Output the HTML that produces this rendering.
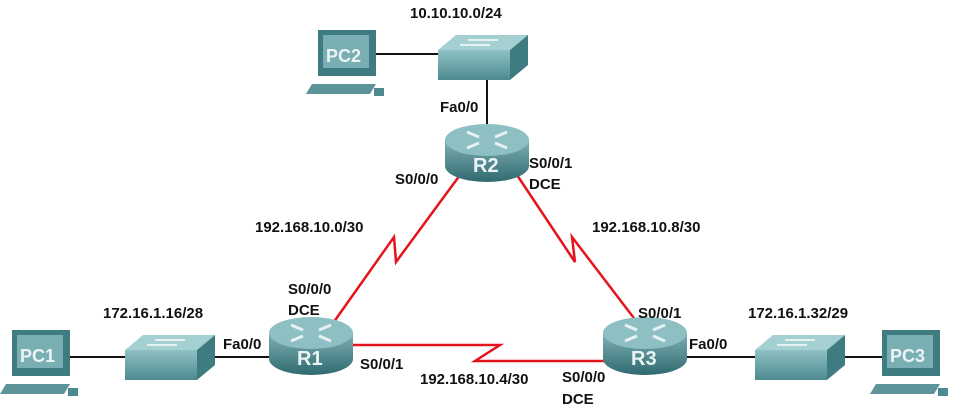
<!DOCTYPE html>
<html><head><style>
body{margin:0;background:#fff}
svg text{font-family:"Liberation Sans",Arial,sans-serif;font-weight:bold;font-size:15px;fill:#111}
</style></head><body>
<svg width="967" height="411" viewBox="0 0 967 411" xmlns="http://www.w3.org/2000/svg">
<defs>
<linearGradient id="rg" x1="0" y1="0" x2="0" y2="1"><stop offset="0" stop-color="#7fb0b4"/><stop offset="1" stop-color="#2f6a70"/></linearGradient>
<linearGradient id="sg" x1="0" y1="0" x2="0" y2="1"><stop offset="0" stop-color="#8fc1c4"/><stop offset="1" stop-color="#4d8a8f"/></linearGradient>
<g id="router">
<path d="M-42,-12 v26 a42,16 0 0 0 84,0 v-26z" fill="url(#rg)"/>
<ellipse cx="0" cy="-12" rx="42" ry="16" fill="#8ec0c3"/>
<path d="M-20,-20 l12,5 M20,-20 l-12,5 M-20,-4 l12,-5 M20,-4 l-12,-5" stroke="#e6f2f2" stroke-width="3"/>
</g>
<g id="switch">
<path d="M0,15 L18,0 H90 L72,15z" fill="#a5d0d2"/>
<path d="M72,15 L90,0 V30 L72,45z" fill="#3f7c81"/>
<rect x="0" y="15" width="72" height="30" fill="url(#sg)"/>
<path d="M30,5 h30 M22,10 h30" stroke="#e6f2f2" stroke-width="2"/>
</g>
<g id="pc">
<rect x="0" y="0" width="58" height="46" fill="#3f7c81"/>
<rect x="5" y="5" width="46" height="33" fill="#79aeb2"/>
<path d="M-6,54 h64 l-6,10 h-64z" fill="#5d9499"/>
<rect x="56" y="58" width="10" height="8" fill="#4d8a8f"/>
</g>
</defs>
<g stroke="#111" stroke-width="2">
<line x1="375" y1="54" x2="445" y2="54"/>
<line x1="487" y1="80" x2="487" y2="125"/>
<line x1="70" y1="357" x2="130" y2="357"/>
<line x1="212" y1="357" x2="275" y2="357"/>
<line x1="683" y1="357" x2="760" y2="357"/>
<line x1="840" y1="357" x2="885" y2="357"/>
</g>
<g stroke="#e5141c" stroke-width="2.5" fill="none" stroke-linejoin="miter">
<polyline points="460,175 396,262 394,237 331,326"/>
<polyline points="517,175 575,262 572,237 640,326"/>
<polyline points="350,345 500,345 475,361 612,361"/>
</g>
<use href="#switch" x="438" y="35"/>
<use href="#switch" x="125" y="335"/>
<use href="#switch" x="755" y="335"/>
<use href="#pc" x="318" y="30"/>
<use href="#pc" x="12" y="330"/>
<use href="#pc" x="882" y="330"/>
<use href="#router" x="487" y="152"/>
<use href="#router" x="311" y="345"/>
<use href="#router" x="645" y="345"/>
<g>
<text x="326" y="62" style="fill:#eaf4f4;font-size:18px">PC2</text>
<text x="20" y="362" style="fill:#eaf4f4;font-size:18px">PC1</text>
<text x="890" y="362" style="fill:#eaf4f4;font-size:18px">PC3</text>
<text x="473" y="172" style="fill:#eaf4f4;font-size:20px">R2</text>
<text x="297" y="365" style="fill:#eaf4f4;font-size:20px">R1</text>
<text x="631" y="365" style="fill:#eaf4f4;font-size:20px">R3</text>
</g>
<text x="410" y="18">10.10.10.0/24</text>
<text x="440" y="112">Fa0/0</text>
<text x="395" y="184">S0/0/0</text>
<text x="529" y="168">S0/0/1</text>
<text x="529" y="189">DCE</text>
<text x="255" y="232">192.168.10.0/30</text>
<text x="592" y="232">192.168.10.8/30</text>
<text x="103" y="318">172.16.1.16/28</text>
<text x="288" y="294">S0/0/0</text>
<text x="288" y="315">DCE</text>
<text x="223" y="349">Fa0/0</text>
<text x="360" y="369">S0/0/1</text>
<text x="420" y="384">192.168.10.4/30</text>
<text x="562" y="382">S0/0/0</text>
<text x="562" y="404">DCE</text>
<text x="638" y="318">S0/0/1</text>
<text x="689" y="349">Fa0/0</text>
<text x="748" y="318">172.16.1.32/29</text>
</svg>
</body></html>
